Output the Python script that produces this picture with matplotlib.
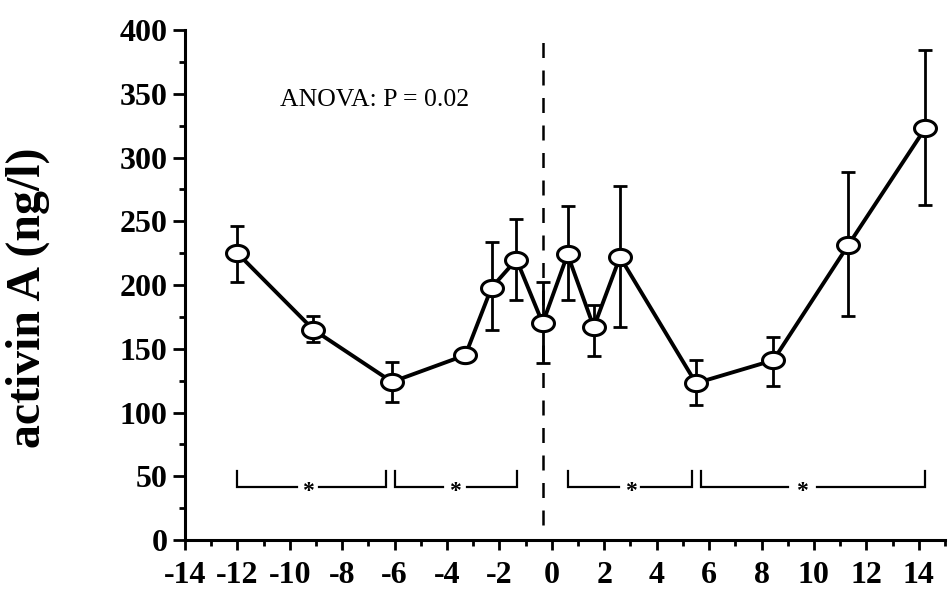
import matplotlib
matplotlib.use("Agg")
import matplotlib.pyplot as plt
import numpy as np
from matplotlib.path import Path
from matplotlib.ticker import MultipleLocator

plt.rcParams['axes.unicode_minus'] = False
plt.rcParams['font.family'] = ['Liberation Serif', 'DejaVu Serif']

# Data (day relative to LH peak vs activin A, ng/l)
days = [-12.0, -9.1, -6.1, -3.3, -2.3, -1.35, -0.35, 0.6, 1.6, 2.6, 5.5, 8.45, 11.3, 14.25]
activin = [225, 165, 124, 145, 198, 220, 170, 224, 167, 222, 123, 141, 231, 323]
err_high = [246, 176, 140, 149, 234, 252, 202, 262, 184, 278, 141, 159, 289, 384]
err_low = [202, 155, 108, 141, 165, 188, 139, 188, 144, 167, 106, 121, 176, 263]

# Significance brackets
br_start = [-12.0, -6.0, 0.6, 5.7]
br_end = [-6.33, -1.33, 5.35, 14.25]
br_star = [-9.3, -3.7, 3.0, 9.55]
br_gap = [0.42, 0.45, 0.42, 0.55]
br_base = 41.5
br_top = 54

xticks = list(range(-14, 15, 2))
yticks = list(range(0, 401, 50))
peak_x = -0.35
anova_text = "ANOVA: P = 0.02"

fig = plt.figure(figsize=(9.5, 5.92), dpi=100)
ax = fig.add_axes([0.1947, 0.0878, 0.80, 0.8615])

# ellipse marker
t = np.linspace(0, 2 * np.pi, 60)
verts = np.column_stack([np.cos(t), 0.74 * np.sin(t)])
ell = Path(verts, closed=True)

y = np.array(activin)
yerr = [y - np.array(err_low), np.array(err_high) - y]
ax.errorbar(days, activin, yerr=yerr, fmt='none', ecolor='black',
            elinewidth=2.0, capsize=5.2, capthick=2.0, zorder=2)
ax.plot(days, activin, color='black', lw=2.8, zorder=3)
ax.plot(days, activin, linestyle='none', marker=ell, markersize=15.8,
        markerfacecolor='white', markeredgecolor='black', markeredgewidth=2.2,
        zorder=4)

# vertical dashed line at LH peak
ax.plot([peak_x, peak_x], [12, 397], color='black', lw=1.8,
        linestyle=(0, (6, 5)), zorder=1)

# brackets
for s, e, st, g in zip(br_start, br_end, br_star, br_gap):
    ax.plot([s, s, st - g], [br_top, br_base, br_base], color='black', lw=1.6,
            solid_joinstyle='miter')
    ax.plot([st + g, e, e], [br_base, br_base, br_top], color='black', lw=1.6,
            solid_joinstyle='miter')
    ax.text(st, br_base - 3.5, "*", ha='center', va='center', fontsize=17,
            fontweight='bold')

ax.text(-6.75, 345, anova_text, ha='center', va='center', fontsize=18.5)

ax.set_xlim(-14, 15)
ax.set_ylim(0, 400)
ax.set_xticks(xticks)
ax.set_xticklabels([str(v) for v in xticks])
ax.set_yticks(yticks)
ax.set_yticklabels([str(v) for v in yticks])
ax.xaxis.set_minor_locator(MultipleLocator(1))
ax.yaxis.set_minor_locator(MultipleLocator(25))

for sp in ['top', 'right']:
    ax.spines[sp].set_visible(False)
for sp in ['left', 'bottom']:
    ax.spines[sp].set_linewidth(2.2)

ax.tick_params(axis='y', which='major', direction='out', length=8.5, width=2.0,
               pad=4, labelsize=23)
ax.tick_params(axis='y', which='minor', direction='out', length=4, width=2.0)
ax.tick_params(axis='x', which='major', direction='out', length=7, width=2.0,
               pad=8, labelsize=23)
ax.tick_params(axis='x', which='minor', direction='out', length=4, width=2.0)
for lab in ax.get_xticklabels() + ax.get_yticklabels():
    lab.set_fontweight('bold')

ax.set_ylabel("activin A (ng/l)", fontsize=34.5, fontweight='bold')
ax.yaxis.set_label_coords(-0.178, 0.475)

fig.savefig("out.png", dpi=100)
